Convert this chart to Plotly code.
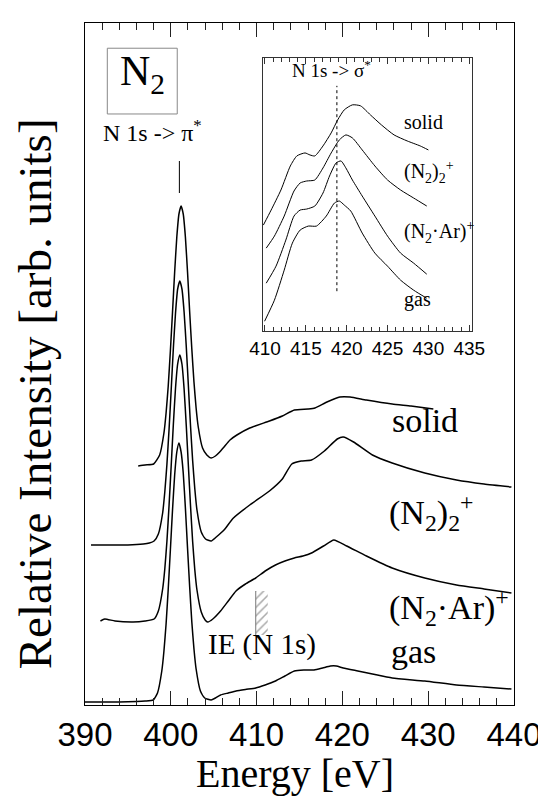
import plotly.graph_objects as go

# ---------------- data ----------------
# main panel: photon energy [eV] and relative intensity (arb. units, offset)
solid_E = [396.2, 397.0, 398.0, 398.7, 399.2, 399.45, 399.7, 399.95, 400.2, 400.45, 400.7, 400.95,
           401.2, 401.45, 401.7, 401.95, 402.2, 402.45, 402.7, 402.95, 403.2, 403.7, 404.2, 404.7,
           405.2, 405.7, 406.2, 406.9, 407.7, 409.2, 411.5, 413.0, 414.4, 416.0, 416.8, 418.2,
           419.7, 420.9, 422.8, 425.8, 428.0, 430.6]
solid_I = [239, 240, 241, 250, 272, 292, 319, 354, 393, 433, 468, 491,
           499, 491, 468, 433, 393, 356, 323, 297, 278, 257, 250, 247,
           249, 253, 258, 265, 270, 277, 284, 289, 295, 296, 297, 303,
           308, 308, 305, 301, 299, 296]

n22_E = [390.7, 393.0, 395.0, 396.8, 397.5, 398.05, 398.55, 399.05, 399.3, 399.55, 399.8, 400.05,
         400.3, 400.55, 400.8, 401.05, 401.3, 401.55, 401.8, 402.05, 402.3, 402.55, 402.8, 403.05,
         403.55, 404.05, 404.7, 405.3, 406.2, 407.3, 409.2, 411.5, 413.0, 414.1, 415.2, 416.4,
         417.9, 419.4, 420.1, 421.3, 423.5, 425.8, 429.6, 433.3, 436.5, 439.7]
n22_I = [160, 160, 160, 161, 162, 164, 171, 192, 213, 241, 276, 316,
         357, 392, 416, 424, 416, 393, 359, 319, 279, 244, 216, 195,
         173, 166, 164, 168, 175, 187, 200, 214, 226, 241, 244, 245,
         254, 266, 268, 263, 250, 242, 232, 225, 221, 218]

n2ar_E = [391.8, 392.3, 393.5, 395.6, 397.0, 398.05, 398.55, 399.05, 399.3, 399.55, 399.8, 400.05,
          400.3, 400.55, 400.8, 401.05, 401.3, 401.55, 401.8, 402.05, 402.3, 402.55, 402.8, 403.05,
          403.55, 404.0, 404.3, 404.9, 405.8, 406.7, 407.6, 408.7, 409.9, 411.0, 412.2, 413.3,
          414.4, 415.4, 416.4, 417.8, 419.0, 420.5, 422.8, 425.8, 429.6, 433.3, 436.5, 439.7]
n2ar_I = [84, 86, 84, 83, 84, 86, 94, 116, 136, 164, 200, 240,
          281, 317, 341, 350, 341, 316, 280, 239, 199, 163, 135, 115,
          93, 85, 83, 86, 94, 104, 114, 121, 127, 134, 140, 144,
          147, 149, 152, 159, 165, 159, 149, 137, 127, 120, 116, 112]

gas_E = [390.0, 392.0, 394.0, 396.0, 397.0, 397.95, 398.45, 398.95, 399.2, 399.45, 399.7, 399.95,
         400.2, 400.45, 400.7, 400.95, 401.2, 401.45, 401.7, 401.95, 402.2, 402.45, 402.7, 402.95,
         403.45, 403.95, 404.7, 405.2, 405.8, 406.7, 407.6, 408.7, 409.9, 411.0, 412.2, 413.3,
         414.4, 415.5, 416.7, 417.7, 418.6, 419.3, 420.1, 421.8, 423.5, 425.8, 429.6, 433.3,
         436.5, 439.7]
gas_I = [3, 3, 3, 3.5, 4, 5, 12, 34, 54, 81, 116, 155,
         195, 230, 253, 262, 253, 232, 197, 157, 118, 83, 56, 36,
         14, 7, 5, 7, 10, 12, 14, 15.5, 17, 20, 24, 29,
         34, 35, 35, 37, 39, 39, 37, 34, 31, 27, 24, 20,
         18, 16]

# inset: sigma* region
in_solid_E = [409.8, 410.75, 411.95, 413.1, 413.9, 414.9, 415.5, 416.1, 417.1, 418.1, 418.9, 419.7,
              420.7, 421.7, 422.9, 424.25, 425.8, 427.4, 429.0, 430.0]
in_solid_I = [106, 121, 141, 165, 175, 178, 176, 175, 185, 198, 211, 221,
              226, 225, 216, 206, 196, 190, 185, 181]
in_n22_E = [410.15, 411.15, 412.35, 413.55, 414.3, 415.1, 416.1, 417.1, 418.1, 419.1, 419.9, 420.7,
            421.9, 423.45, 425.0, 426.6, 428.2, 429.8]
in_n22_I = [83, 95, 115, 140, 148, 150, 151, 163, 178, 191, 196, 193,
            181, 165, 151, 141, 133, 125]
in_n2ar_E = [410.15, 411.35, 412.55, 413.55, 414.3, 415.1, 416.1, 417.1, 417.9, 418.7, 419.3, 419.9,
             420.7, 421.9, 423.45, 425.0, 426.6, 428.2, 429.8]
in_n2ar_I = [48, 65, 91, 115, 121, 122, 125, 138, 155, 168, 170, 163,
             151, 135, 115, 95, 78, 68, 57]
in_gas_E = [409.95, 411.15, 412.35, 413.35, 414.3, 415.3, 416.3, 417.5, 418.5, 419.1, 419.7, 420.5,
            421.9, 423.45, 425.0, 426.6, 428.2, 429.8]
in_gas_I = [10, 31, 61, 88, 101, 105, 105, 115, 128, 130, 126, 120,
            98, 78, 65, 51, 41, 33]

PI_STAR = 401.0          # N 1s -> pi* marker energy
PI_MARK_I = [512, 544]   # extent of marker
SIGMA_STAR = 418.8       # N 1s -> sigma* marker energy (inset)
SIGMA_MARK_I = [40, 245]
IE_E = [409.9, 411.3]    # N 1s ionization energy band
IE_I = [70, 114]

main_ticks = [390, 400, 410, 420, 430, 440]
inset_ticks = [410, 415, 420, 425, 430, 435]

SERIF = "Liberation Serif, Times New Roman, serif"
SANS = "Liberation Sans, Arial, sans-serif"

fig = go.Figure()

line_main = dict(color="black", width=1.5, shape="spline", smoothing=0.5)
for E, I in [(solid_E, solid_I), (n22_E, n22_I), (n2ar_E, n2ar_I), (gas_E, gas_I)]:
    fig.add_trace(go.Scatter(x=E, y=I, mode="lines", line=line_main, hoverinfo="skip",
                             xaxis="x", yaxis="y", showlegend=False))

line_in = dict(color="black", width=1.0, shape="spline", smoothing=0.6)
for E, I in [(in_solid_E, in_solid_I), (in_n22_E, in_n22_I), (in_n2ar_E, in_n2ar_I), (in_gas_E, in_gas_I)]:
    fig.add_trace(go.Scatter(x=E, y=I, mode="lines", line=line_in, hoverinfo="skip",
                             xaxis="x2", yaxis="y2", showlegend=False))

# pi* marker
fig.add_trace(go.Scatter(x=[PI_STAR, PI_STAR], y=PI_MARK_I, mode="lines",
                         line=dict(color="black", width=1), xaxis="x", yaxis="y", showlegend=False))
# sigma* dashed marker
fig.add_trace(go.Scatter(x=[SIGMA_STAR, SIGMA_STAR], y=SIGMA_MARK_I, mode="lines",
                         line=dict(color="black", width=1, dash="3px,3px"), xaxis="x2", yaxis="y2",
                         showlegend=False))
# IE hatched band
fig.add_trace(go.Scatter(x=[IE_E[0], IE_E[1], IE_E[1], IE_E[0], IE_E[0]],
                         y=[IE_I[0], IE_I[0], IE_I[1], IE_I[1], IE_I[0]],
                         mode="lines", fill="toself", line=dict(width=0, color="rgba(0,0,0,0)"),
                         fillcolor="white",
                         fillpattern=dict(shape="/", fgcolor="#555", bgcolor="white", size=6, solidity=0.25),
                         xaxis="x", yaxis="y", showlegend=False, hoverinfo="skip"))
fig.add_trace(go.Scatter(x=[IE_E[0], IE_E[0]], y=IE_I, mode="lines",
                         line=dict(color="#777", width=1), xaxis="x", yaxis="y", showlegend=False))

ann = []
def A(text, x, y, size, xref="x", yref="y", xanchor="left", yanchor="middle", font=SERIF, angle=0):
    ann.append(dict(text=text, x=x, y=y, xref=xref, yref=yref, xanchor=xanchor, yanchor=yanchor,
                    showarrow=False, textangle=angle, font=dict(family=font, size=size, color="black")))

A("solid", 425.6, 285, 34)
A("(N<sub>2</sub>)<sub>2</sub><sup>+</sup>", 425.2, 193, 34)
A("(N<sub>2</sub>·Ar)<sup>+</sup>", 425.2, 98, 34)
A("gas", 425.4, 54, 34)
A("IE (N 1s)", 410.6, 61, 29, xanchor="center")
A("N 1s -> π<sup>*</sup>", 397.9, 574, 24, xanchor="center")
A("N<sub>2</sub>", 396.7, 631, 42, xanchor="center")

A("N 1s -> σ<sup>*</sup>", 418.1, 262, 19, xref="x2", yref="y2", xanchor="center")
A("solid", 426.8, 209, 20, xref="x2", yref="y2")
A("(N<sub>2</sub>)<sub>2</sub><sup>+</sup>", 426.8, 159, 20, xref="x2", yref="y2")
A("(N<sub>2</sub>·Ar)<sup>+</sup>", 426.8, 99, 20, xref="x2", yref="y2")
A("gas", 426.8, 32, 20, xref="x2", yref="y2")

A("Energy [eV]", 0.49, -0.101, 40, xref="paper", yref="paper", xanchor="center")
A("Relative Intensity [arb. units]", -0.116, 0.456, 47, xref="paper", yref="paper",
  xanchor="center", angle=-90)

fig.update_layout(
    width=546, height=800,
    margin=dict(l=77, r=28, t=15, b=103),
    paper_bgcolor="white", plot_bgcolor="white",
    showlegend=False,
    annotations=ann,
    shapes=[dict(type="rect", xref="paper", yref="paper", x0=0.052, x1=0.215, y0=0.8666, y1=0.963,
                 line=dict(color="#888", width=1), layer="above")],
    xaxis=dict(range=[390, 440], domain=[0, 1], tickvals=main_ticks, ticks="inside", ticklen=14,
               tickwidth=1, tickcolor="#222",
               minor=dict(dtick=2, tick0=390, ticks="inside", ticklen=7, tickwidth=1, tickcolor="#222"),
               showline=True, linecolor="black", linewidth=1.3, mirror="ticks",
               showgrid=False, zeroline=False, ticklabelstandoff=0, ticklabeloverflow="allow",
               tickfont=dict(family=SANS, size=33, color="black"), anchor="y"),
    yaxis=dict(range=[0, 682], domain=[0, 1], showticklabels=False, ticks="",
               showline=True, linecolor="black", linewidth=1.3, mirror=True,
               showgrid=False, zeroline=False, anchor="x"),
    xaxis2=dict(range=[409.76, 435.36], domain=[0.415, 0.9025], tickvals=inset_ticks, ticks="inside",
                ticklen=6, tickwidth=1, tickcolor="#333",
                minor=dict(dtick=1, tick0=410, ticks="inside", ticklen=4, tickwidth=1, tickcolor="#333"),
                showline=True, linecolor="#333", linewidth=1, mirror="ticks",
                showgrid=False, zeroline=False, ticklabelstandoff=0, ticklabeloverflow="allow",
                tickfont=dict(family=SANS, size=19, color="black"), anchor="y2"),
    yaxis2=dict(range=[0, 273], domain=[0.548, 0.949], showticklabels=False, ticks="",
                showline=True, linecolor="#333", linewidth=1, mirror=True,
                showgrid=False, zeroline=False, anchor="x2"),
)

fig.write_html("out.html")
